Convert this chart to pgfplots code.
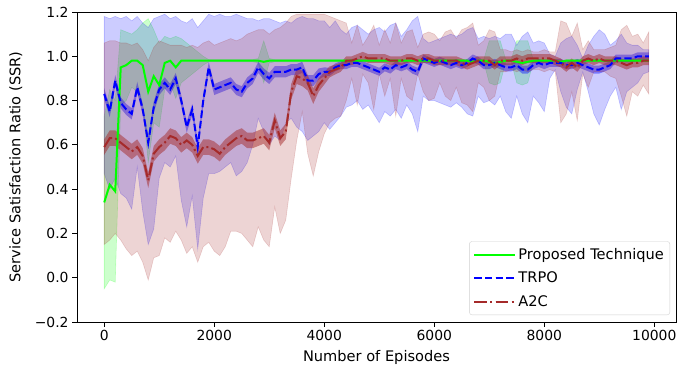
\documentclass[border=0pt]{standalone}
\usepackage{pgfplots}
\usepackage{pgfplotstable}
\pgfplotsset{compat=1.18}
\usepgfplotslibrary{fillbetween}
\usepackage{fontspec}
\setmainfont{DejaVu Sans}
\definecolor{cgreen}{HTML}{00FF00}
\definecolor{cblue}{HTML}{0000FF}
\definecolor{cbrown}{HTML}{A52A2A}

\pgfplotstableread{
x m lo hi
0 0.34 -0.05 0.73
100 0.42 -0.01 0.85
200 0.39 -0.02 0.80
300 0.95 0.78 1.12
400 0.96 0.80 1.11
500 0.98 0.86 1.10
600 0.98 0.84 1.12
700 0.96 0.78 1.15
800 0.84 0.52 1.17
900 0.91 0.70 1.12
1000 0.87 0.68 1.06
1100 0.97 0.85 1.09
1200 0.98 0.88 1.08
1300 0.95 0.81 1.09
1400 0.98 0.88 1.08
1500 0.98 0.90 1.06
1600 0.98 0.92 1.04
1700 0.98 0.94 1.02
1800 0.98 0.96 1.00
1900 0.98 0.975 0.985
2000 0.98 0.975 0.985
2100 0.98 0.975 0.985
2200 0.98 0.975 0.985
2300 0.98 0.975 0.985
2400 0.98 0.975 0.985
2500 0.98 0.975 0.985
2600 0.98 0.975 0.985
2700 0.98 0.975 0.985
2800 0.98 0.97 0.99
2900 0.975 0.88 1.07
3000 0.98 0.97 0.99
3100 0.98 0.975 0.985
3200 0.98 0.975 0.985
3300 0.98 0.975 0.985
3400 0.98 0.975 0.985
3500 0.98 0.975 0.985
3600 0.98 0.975 0.985
3700 0.98 0.975 0.985
3800 0.98 0.975 0.985
3900 0.98 0.975 0.985
4000 0.98 0.975 0.985
4100 0.98 0.975 0.985
4200 0.98 0.975 0.985
4300 0.98 0.975 0.985
4400 0.98 0.975 0.985
4500 0.98 0.975 0.985
4600 0.98 0.975 0.985
4700 0.98 0.975 0.985
4800 0.98 0.975 0.985
4900 0.98 0.975 0.985
5000 0.98 0.975 0.985
5100 0.98 0.975 0.985
5200 0.98 0.975 0.985
5300 0.98 0.975 0.985
5400 0.98 0.975 0.985
5500 0.98 0.975 0.985
5600 0.98 0.975 0.985
5700 0.98 0.975 0.985
5800 0.98 0.975 0.985
5900 0.98 0.975 0.985
6000 0.98 0.975 0.985
6100 0.98 0.975 0.985
6200 0.98 0.975 0.985
6300 0.98 0.975 0.985
6400 0.98 0.975 0.985
6500 0.98 0.975 0.985
6600 0.98 0.975 0.985
6700 0.975 0.97 0.98
6800 0.98 0.975 0.985
6900 0.98 0.975 0.985
7000 0.975 0.88 1.07
7100 0.97 0.87 1.07
7200 0.975 0.88 1.07
7300 0.98 0.975 0.985
7400 0.98 0.975 0.985
7500 0.975 0.88 1.07
7600 0.97 0.87 1.07
7700 0.975 0.88 1.07
7800 0.98 0.975 0.985
7900 0.98 0.975 0.985
8000 0.98 0.975 0.985
8100 0.98 0.975 0.985
8200 0.98 0.975 0.985
8300 0.975 0.97 0.98
8400 0.98 0.975 0.985
8500 0.98 0.975 0.985
8600 0.98 0.975 0.985
8700 0.98 0.975 0.985
8800 0.98 0.975 0.985
8900 0.98 0.975 0.985
9000 0.98 0.975 0.985
9100 0.98 0.975 0.985
9200 0.98 0.975 0.985
9300 0.98 0.975 0.985
9400 0.98 0.975 0.985
9500 0.98 0.975 0.985
9600 0.98 0.975 0.985
9700 0.98 0.975 0.985
9800 0.98 0.975 0.985
9900 0.98 0.975 0.985
}\greendata

\pgfplotstableread{
x m lo hi d
0 0.83 0.47 1.18 0.025
100 0.75 0.40 1.17 0.025
200 0.89 0.45 1.18 0.025
300 0.79 0.38 1.17 0.025
400 0.76 0.36 1.18 0.025
500 0.74 0.31 1.16 0.025
600 0.86 0.50 1.18 0.025
700 0.76 0.30 1.15 0.025
800 0.61 0.15 1.13 0.025
900 0.77 0.22 1.17 0.025
1000 0.85 0.45 1.18 0.025
1100 0.88 0.52 1.19 0.025
1200 0.85 0.50 1.17 0.025
1300 0.90 0.55 1.18 0.025
1400 0.80 0.35 1.16 0.025
1500 0.68 0.23 1.15 0.025
1600 0.76 0.37 1.17 0.025
1700 0.59 0.13 1.13 0.025
1800 0.80 0.36 1.16 0.025
1900 0.95 0.47 1.19 0.025
2000 0.85 0.47 1.18 0.025
2100 0.86 0.48 1.19 0.025
2200 0.87 0.50 1.18 0.025
2300 0.88 0.52 1.18 0.025
2400 0.85 0.46 1.19 0.025
2500 0.84 0.48 1.18 0.025
2600 0.88 0.52 1.17 0.025
2700 0.90 0.60 1.17 0.025
2800 0.95 0.72 1.16 0.025
2900 0.92 0.66 1.17 0.025
3000 0.90 0.60 1.17 0.025
3100 0.93 0.64 1.16 0.025
3200 0.93 0.62 1.15 0.025
3300 0.93 0.70 1.16 0.025
3400 0.94 0.72 1.15 0.025
3500 0.94 0.68 1.17 0.025
3600 0.95 0.66 1.18 0.025
3700 0.89 0.62 1.17 0.025
3800 0.89 0.64 1.17 0.025
3900 0.92 0.66 1.16 0.025
4000 0.93 0.70 1.16 0.02
4100 0.93 0.67 1.13 0.018
4200 0.95 0.70 1.16 0.018
4300 0.96 0.73 1.12 0.018
4400 0.96 0.77 1.10 0.018
4500 0.97 0.78 1.13 0.018
4600 0.97 0.80 1.14 0.018
4700 0.96 0.76 1.12 0.018
4800 0.95 0.78 1.10 0.018
4900 0.94 0.74 1.12 0.018
5000 0.93 0.70 1.13 0.018
5100 0.95 0.75 1.11 0.018
5200 0.94 0.73 1.14 0.018
5300 0.96 0.76 1.15 0.018
5400 0.95 0.72 1.09 0.018
5500 0.96 0.78 1.12 0.018
5600 0.94 0.74 1.16 0.018
5700 0.93 0.66 1.18 0.018
5800 0.99 0.82 1.08 0.018
5900 0.98 0.80 1.06 0.018
6000 0.97 0.80 1.07 0.018
6100 0.98 0.79 1.08 0.018
6200 0.97 0.78 1.09 0.018
6300 0.96 0.77 1.10 0.018
6400 0.97 0.79 1.09 0.018
6500 0.96 0.77 1.10 0.018
6600 0.97 0.74 1.12 0.018
6700 0.99 0.73 1.13 0.018
6800 0.98 0.82 1.08 0.018
6900 0.96 0.79 1.09 0.018
7000 0.96 0.80 1.08 0.018
7100 0.97 0.78 1.09 0.018
7200 0.96 0.82 1.08 0.018
7300 0.95 0.75 1.10 0.018
7400 0.95 0.72 1.10 0.018
7500 0.96 0.82 1.05 0.018
7600 0.94 0.74 1.09 0.018
7700 0.94 0.70 1.11 0.018
7800 0.96 0.82 1.06 0.018
7900 0.97 0.79 1.07 0.018
8000 0.96 0.75 1.06 0.018
8100 0.97 0.90 1.01 0.018
8200 0.97 0.94 1.00 0.018
8300 0.97 0.84 1.06 0.018
8400 0.96 0.77 1.08 0.018
8500 0.96 0.74 1.09 0.018
8600 0.97 0.85 1.05 0.018
8700 0.96 0.93 0.99 0.018
8800 0.95 0.84 1.05 0.018
8900 0.94 0.74 1.09 0.018
9000 0.94 0.69 1.12 0.018
9100 0.95 0.76 1.10 0.018
9200 0.96 0.82 1.05 0.018
9300 0.99 0.86 1.07 0.018
9400 0.99 0.76 1.10 0.018
9500 0.99 0.84 1.06 0.018
9600 0.99 0.86 1.05 0.018
9700 1.00 0.88 1.05 0.018
9800 1.00 0.92 1.03 0.018
9900 1.00 0.93 1.03 0.018
}\bluedata

\pgfplotstableread{
x m lo hi d
0 0.59 0.15 1.06 0.035
100 0.63 0.17 1.07 0.035
200 0.63 0.20 1.07 0.035
300 0.61 0.17 1.06 0.035
400 0.59 0.13 1.06 0.035
500 0.57 0.10 1.05 0.035
600 0.59 0.12 1.06 0.035
700 0.55 0.07 1.03 0.035
800 0.44 -0.01 0.98 0.035
900 0.56 0.09 1.04 0.035
1000 0.59 0.10 1.07 0.035
1100 0.61 0.18 1.06 0.035
1200 0.64 0.16 1.05 0.035
1300 0.63 0.21 1.05 0.035
1400 0.60 0.17 1.05 0.035
1500 0.62 0.11 1.04 0.035
1600 0.60 0.14 1.05 0.035
1700 0.55 0.07 1.04 0.035
1800 0.59 0.14 1.06 0.035
1900 0.59 0.16 1.07 0.035
2000 0.58 0.12 1.05 0.035
2100 0.56 0.10 1.06 0.035
2200 0.59 0.14 1.07 0.035
2300 0.61 0.21 1.08 0.035
2400 0.63 0.21 1.07 0.035
2500 0.64 0.20 1.08 0.035
2600 0.62 0.17 1.10 0.035
2700 0.62 0.14 1.11 0.035
2800 0.63 0.23 1.12 0.035
2900 0.64 0.17 1.12 0.035
3000 0.61 0.14 1.10 0.035
3100 0.71 0.32 1.12 0.035
3200 0.63 0.20 1.13 0.035
3300 0.66 0.26 1.15 0.035
3400 0.84 0.45 1.18 0.035
3500 0.91 0.62 1.19 0.035
3600 0.90 0.75 1.19 0.035
3700 0.88 0.56 1.19 0.035
3800 0.82 0.46 1.19 0.035
3900 0.87 0.57 1.19 0.03
4000 0.90 0.65 1.19 0.028
4100 0.93 0.70 1.18 0.025
4200 0.94 0.72 1.17 0.022
4300 0.95 0.73 1.16 0.02
4400 0.98 0.80 1.15 0.02
4500 0.98 0.90 1.06 0.02
4600 0.99 0.78 1.14 0.02
4700 1.00 0.92 1.05 0.02
4800 0.99 0.88 1.09 0.02
4900 0.99 0.76 1.14 0.02
5000 0.99 0.92 1.05 0.02
5100 0.99 0.82 1.12 0.02
5200 0.98 0.90 1.06 0.02
5300 0.98 0.73 1.15 0.02
5400 0.98 0.90 1.06 0.02
5500 0.99 0.82 1.11 0.02
5600 0.99 0.80 1.12 0.02
5700 0.98 0.92 1.04 0.02
5800 0.99 0.84 1.10 0.02
5900 0.99 0.80 1.11 0.02
6000 0.98 0.81 1.10 0.02
6100 0.98 0.88 1.07 0.02
6200 0.98 0.82 1.11 0.02
6300 0.98 0.80 1.12 0.02
6400 0.98 0.86 1.08 0.02
6500 0.97 0.79 1.12 0.02
6600 0.96 0.78 1.13 0.02
6700 0.97 0.75 1.15 0.02
6800 0.98 0.88 1.05 0.02
6900 0.98 0.86 1.07 0.02
7000 0.98 0.80 1.12 0.02
7100 0.96 0.82 1.11 0.02
7200 0.98 0.93 1.03 0.02
7300 0.98 0.93 1.03 0.02
7400 0.98 0.94 1.02 0.02
7500 0.99 0.93 1.03 0.02
7600 0.98 0.94 1.02 0.02
7700 0.99 0.93 1.03 0.02
7800 0.99 0.94 1.02 0.02
7900 0.99 0.94 1.02 0.02
8000 0.99 0.93 1.03 0.02
8100 0.99 0.94 1.02 0.02
8200 0.98 0.93 1.02 0.02
8300 0.97 0.70 1.16 0.02
8400 0.95 0.74 1.15 0.02
8500 0.97 0.84 1.09 0.02
8600 0.95 0.71 1.15 0.02
8700 0.98 0.92 1.03 0.02
8800 0.99 0.86 1.07 0.02
8900 0.98 0.93 1.03 0.02
9000 0.99 0.93 1.03 0.02
9100 0.98 0.93 1.03 0.02
9200 0.98 0.91 1.04 0.02
9300 0.98 0.90 1.05 0.02
9400 0.97 0.82 1.12 0.02
9500 0.96 0.73 1.14 0.02
9600 0.97 0.84 1.09 0.02
9700 0.97 0.82 1.10 0.02
9800 0.98 0.87 1.06 0.02
9900 0.98 0.83 1.11 0.02
}\browndata

\begin{document}
\begin{tikzpicture}
\begin{axis}[
  scale only axis,
  width=599pt, height=310pt,
  xmin=-495, xmax=10395,
  ymin=-0.2, ymax=1.2,
  scaled x ticks=false,
  xtick={0,2000,4000,6000,8000,10000},
  xticklabels={0,2000,4000,6000,8000,10000},
  ytick={-0.2,0,0.2,0.4,0.6,0.8,1.0,1.2},
  yticklabels={−0.2,0.0,0.2,0.4,0.6,0.8,1.0,1.2},
  tick align=outside,
  tick pos=left,
  major tick length=4.9pt,
  every tick/.style={black, line width=0.8pt},
  axis line style={line width=0.8pt},
  tick label style={font=\fontsize{13.9}{16}\selectfont},
  label style={font=\fontsize{14.6}{17}\selectfont},
  xlabel={Number of Episodes},
  xlabel style={yshift=-3pt},
  ylabel={Service Satisfaction Ratio (SSR)},
  ylabel style={at={(axis description cs:-0.102,0.5)}, anchor=center},
  legend cell align=left,
  legend style={at={(rel axis cs:1,0)}, anchor=south east, xshift=-6pt, yshift=7pt,
    draw=black!18, rounded corners=2.5pt, fill=white, fill opacity=0.8, text opacity=1,
    font=\fontsize{14.6}{17}\selectfont, row sep=7pt, inner xsep=4pt, inner ysep=5pt},
  legend image code/.code={\draw[#1] (0pt,0pt) -- (33pt,0pt); \path (0pt,0pt) -- (41pt,0pt);},
]
% Proposed technique
\addplot[draw=none, name path=gl, forget plot] table[x=x,y=lo]{\greendata};
\addplot[draw=none, name path=gh, forget plot] table[x=x,y=hi]{\greendata};
\addplot[fill=cgreen, fill opacity=0.2, draw=cgreen, draw opacity=0.2, line width=0.6pt, forget plot] fill between[of=gl and gh];
\addplot[cgreen, line width=2pt] table[x=x,y=m]{\greendata};
\addlegendentry{Proposed Technique}
% TRPO
\addplot[draw=none, name path=bl, forget plot] table[x=x,y=lo]{\bluedata};
\addplot[draw=none, name path=bh, forget plot] table[x=x,y=hi]{\bluedata};
\addplot[fill=cblue, fill opacity=0.2, draw=cblue, draw opacity=0.2, line width=0.6pt, forget plot] fill between[of=bl and bh];
\addplot[draw=none, name path=bnl, forget plot] table[x=x,y expr=\thisrow{m}-\thisrow{d}]{\bluedata};
\addplot[draw=none, name path=bnh, forget plot] table[x=x,y expr=\thisrow{m}+\thisrow{d}]{\bluedata};
\addplot[fill=cblue, fill opacity=0.4, draw=none, forget plot] fill between[of=bnl and bnh];
\addplot[cblue, line width=2pt, dash pattern=on 7.4pt off 3.2pt] table[x=x,y=m]{\bluedata};
\addlegendentry{TRPO}
% A2C
\addplot[draw=none, name path=rl, forget plot] table[x=x,y=lo]{\browndata};
\addplot[draw=none, name path=rh, forget plot] table[x=x,y=hi]{\browndata};
\addplot[fill=cbrown, fill opacity=0.2, draw=cbrown, draw opacity=0.2, line width=0.6pt, forget plot] fill between[of=rl and rh];
\addplot[draw=none, name path=rnl, forget plot] table[x=x,y expr=\thisrow{m}-\thisrow{d}]{\browndata};
\addplot[draw=none, name path=rnh, forget plot] table[x=x,y expr=\thisrow{m}+\thisrow{d}]{\browndata};
\addplot[fill=cbrown, fill opacity=0.5, draw=none, forget plot] fill between[of=rnl and rnh];
\addplot[cbrown, line width=2pt, dash pattern=on 12.8pt off 3.2pt on 2pt off 3.2pt] table[x=x,y=m]{\browndata};
\addlegendentry{A2C}
\coordinate (sw) at (rel axis cs:0,0);
\coordinate (ne) at (rel axis cs:1,1);
\end{axis}
\pgfresetboundingbox
\path[use as bounding box] ([shift={(-77pt,-53pt)}]sw) rectangle ([shift={(1pt,12pt)}]ne);
\end{tikzpicture}
\end{document}
